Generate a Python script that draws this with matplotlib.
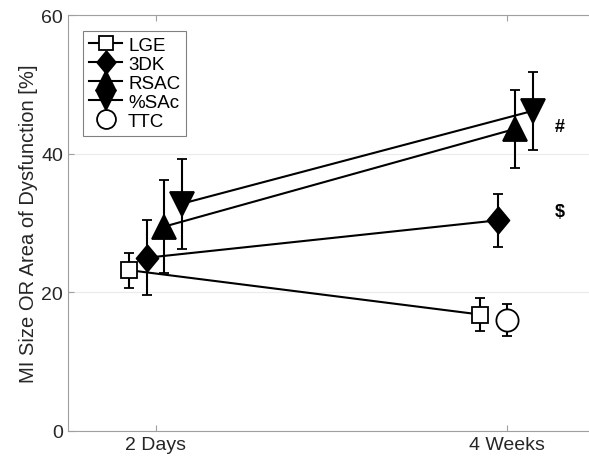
import numpy as np
import matplotlib.pyplot as plt
from matplotlib.lines import Line2D

plt.rcParams['font.family'] = ['Liberation Sans', 'DejaVu Sans']

# data (mean, error) at 2 Days and 4 Weeks
groups = ['2 Days', '4 Weeks']
names = ['LGE', '3DK', 'RSAC', '%SAc', 'TTC']
offsets = [-0.075, -0.025, 0.025, 0.075, 0.0]
means = {
    'LGE': [23.2, 16.8],
    '3DK': [25.0, 30.4],
    'RSAC': [29.5, 43.6],
    '%SAc': [32.8, 46.2],
    'TTC': [None, 16.0],
}
errs = {
    'LGE': [2.5, 2.4],
    '3DK': [5.4, 3.8],
    'RSAC': [6.7, 5.6],
    '%SAc': [6.5, 5.6],
    'TTC': [None, 2.3],
}
marks = {'4 Weeks': [('#', 43.9), ('$', 31.6)]}

diamond = [(0, 1), (0.83, 0), (0, -1), (-0.83, 0), (0, 1)]
style = {
    'LGE': dict(marker='s', mfc='white', ms=11.5),
    '3DK': dict(marker=diamond, mfc='black', ms=19),
    'RSAC': dict(marker='^', mfc='black', ms=17),
    '%SAc': dict(marker='v', mfc='black', ms=17),
    'TTC': dict(marker='o', mfc='white', ms=16),
}

fig = plt.figure(figsize=(5.89, 4.6), dpi=100)
# the right side of the box is cut off in the original
ax = fig.add_axes([0.1154, 0.0609, 0.95, 0.904])

for name, off in zip(names, offsets):
    xs, ys, es = [], [], []
    for i, g in enumerate(groups):
        if means[name][i] is not None:
            xs.append(i + 1 + off)
            ys.append(means[name][i])
            es.append(errs[name][i])
    ax.errorbar(xs, ys, yerr=es, color='black', lw=1.5, elinewidth=1.5,
                capsize=3.5, capthick=1.5, mec='black', mew=1.3,
                label=name, zorder=3, **style[name])

for sym, y in marks['4 Weeks']:
    ax.text(2.15, y, sym, fontsize=13, fontweight='bold', ha='center', va='center')

ax.set_xlim(0.75, 0.75 + 0.95 * 589 / 351)
ax.set_ylim(0, 60)
ax.set_xticks([1, 2])
ax.set_xticklabels(groups)
ax.set_yticks([0, 20, 40, 60])
ax.tick_params(direction='in', length=4, color='#a0a0a0', labelsize=14,
               top=True, right=False, labelcolor='#262626')
ax.grid(axis='y', color='#ebebeb', lw=0.8)
ax.set_axisbelow(True)
for s in ax.spines.values():
    s.set_color('#a0a0a0')
ax.spines['right'].set_visible(False)
ax.set_ylabel('MI Size OR Area of Dysfunction [%]', fontsize=14.5, color='#262626',
              labelpad=2)

handles = [Line2D([], [], color='black', lw=1.5, mec='black', mew=1.3,
                  **style[n]) for n in names[:4]]
handles.append(Line2D([], [], color='black', lw=0, mec='black', mew=1.3, **style['TTC']))
for h in handles:
    h.set_markersize(h.get_markersize() * 0.85)
leg = ax.legend(handles, names, loc='upper left', bbox_to_anchor=(0.017, 0.975),
                fontsize=13.5, frameon=True, fancybox=False, edgecolor='#606060',
                handlelength=1.8, handletextpad=0.3, labelspacing=0.1,
                borderpad=0.3, borderaxespad=0.3)
leg.get_frame().set_linewidth(0.8)

plt.savefig('out.png', dpi=100)
